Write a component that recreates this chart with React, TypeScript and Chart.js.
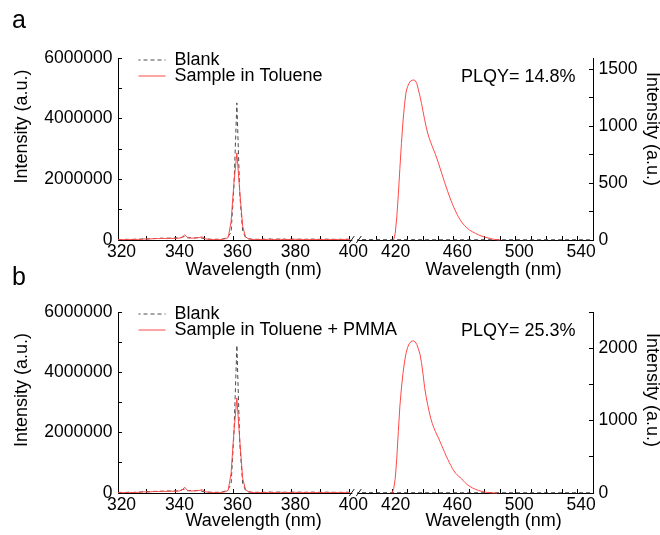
import React, { useEffect, useRef } from 'react';
import { Chart, registerables } from 'chart.js';

Chart.register(...registerables);

const FONT = "'Liberation Sans', Arial, Helvetica, sans-serif";
const RED = 'rgb(255, 72, 72)';
const GREY = '#4a4a4a';

// ---- data: left segment sampled every 1 nm starting at 320 nm ----
const leftStart = 320;

const blankA_left = [
  20000, 15000, 18000, 22000, 15000, 20000, 25000, 18000, 30000, 45000,
  35000, 40000, 50000, 45000, 55000, 60000, 50000, 65000, 55000, 60000,
  70000, 60000, 90000, 120000, 70000, 80000, 60000, 70000, 90000, 60000,
  40000, 30000, 25000, 20000, 25000, 20000, 30000, 60000, 120000, 250000,
  1800000, 4520000, 1500000, 300000, 80000, 40000, 30000, 25000, 20000, 25000,
  30000, 20000, 40000, 25000, 20000, 30000, 25000, 35000, 20000, 25000,
  30000, 20000, 25000, 30000, 20000, 25000, 20000, 30000, 25000, 20000,
  25000, 20000, 30000, 20000, 25000, 20000, 25000, 20000, 20000, 25000, 20000,
];
const sampleA_left = [
  10000, 15000, 12000, 18000, 20000, 15000, 22000, 20000, 25000, 35000,
  30000, 35000, 40000, 50000, 45000, 55000, 50000, 45000, 60000, 50000,
  55000, 60000, 80000, 170000, 80000, 60000, 65000, 70000, 80000, 105000,
  40000, 25000, 20000, 15000, 20000, 15000, 25000, 40000, 80000, 600000,
  1900000, 2870000, 1600000, 450000, 100000, 40000, 20000, 15000, 20000, 15000,
  20000, 15000, 25000, 20000, 15000, 20000, 25000, 15000, 20000, 15000,
  20000, 25000, 15000, 20000, 15000, 20000, 15000, 20000, 15000, 20000,
  15000, 20000, 15000, 20000, 15000, 20000, 15000, 20000, 15000, 20000, 15000,
];
const blankB_left = [
  25000, 20000, 15000, 20000, 25000, 18000, 22000, 30000, 35000, 50000,
  40000, 45000, 55000, 50000, 60000, 55000, 65000, 70000, 60000, 75000,
  65000, 80000, 110000, 130000, 75000, 85000, 70000, 80000, 95000, 55000,
  35000, 30000, 25000, 20000, 22000, 25000, 35000, 65000, 130000, 280000,
  2000000, 4900000, 1650000, 320000, 85000, 40000, 30000, 25000, 20000, 25000,
  25000, 20000, 35000, 25000, 20000, 30000, 25000, 30000, 20000, 25000,
  30000, 20000, 25000, 30000, 20000, 25000, 20000, 30000, 25000, 20000,
  25000, 20000, 30000, 20000, 25000, 20000, 25000, 20000, 20000, 25000, 20000,
];
const sampleB_left = [
  12000, 15000, 10000, 18000, 22000, 15000, 20000, 22000, 28000, 40000,
  32000, 38000, 45000, 55000, 48000, 60000, 52000, 50000, 65000, 55000,
  60000, 65000, 90000, 190000, 85000, 65000, 70000, 75000, 85000, 110000,
  40000, 25000, 20000, 15000, 20000, 15000, 25000, 40000, 90000, 650000,
  2050000, 3150000, 1750000, 480000, 110000, 40000, 20000, 15000, 20000, 15000,
  20000, 15000, 25000, 20000, 15000, 20000, 25000, 15000, 20000, 15000,
  20000, 25000, 15000, 20000, 15000, 20000, 15000, 20000, 15000, 20000,
  15000, 20000, 15000, 20000, 15000, 20000, 15000, 20000, 15000, 20000, 15000,
];

// ---- data: right segment (emission) ----
const sampleA_rightWl = [
  421, 422, 423, 424, 425, 426, 427, 428, 429, 430,
  431, 432, 433, 434, 435, 436, 437, 438, 439, 440,
  441, 442, 443, 444, 445, 446, 447, 448, 449, 450,
  451, 452, 453, 454, 455, 456, 457, 458, 459, 460,
  461, 462, 463, 464, 465, 466, 467, 468, 469, 470,
  472, 474, 476, 478, 480, 482, 484, 486, 488, 490,
];
const sampleA_right = [
  0, 60, 200, 400, 630, 850, 1040, 1190, 1300, 1350,
  1380, 1398, 1405, 1407, 1400, 1375, 1320, 1265, 1200, 1130,
  1060, 995, 940, 895, 858, 822, 788, 752, 715, 675,
  632, 590, 547, 505, 465, 425, 387, 350, 315, 285,
  255, 226, 200, 178, 158, 140, 125, 112, 100, 88,
  72, 58, 45, 34, 26, 18, 11, 6, 3, 0,
];
const sampleB_rightWl = [
  420, 421, 422, 423, 424, 425, 426, 427, 428, 429, 430,
  431, 432, 433, 434, 435, 436, 437, 438, 439, 440,
  441, 442, 443, 444, 445, 446, 447, 448, 449, 450,
  451, 452, 453, 454, 455, 456, 457, 458, 459, 460,
  461, 462, 463, 464, 465, 466, 467, 468, 469, 470,
  472, 474, 476, 478, 480, 482, 484, 486, 488,
];
const sampleB_right = [
  0, 60, 200, 480, 850, 1200, 1450, 1650, 1810, 1930, 2010,
  2060, 2088, 2100, 2100, 2085, 2050, 1990, 1920, 1800, 1640,
  1460, 1330, 1220, 1120, 1030, 960, 900, 850, 800, 760,
  710, 660, 610, 560, 510, 465, 420, 380, 340, 305,
  275, 252, 232, 215, 195, 170, 148, 128, 110, 95,
  70, 50, 35, 22, 13, 7, 3, 1, 0,
];
const blankRightWl = [396, 400, 410, 420, 430, 440, 450, 460, 470, 480, 490, 500, 510, 520, 530, 540, 550];
const blankA_right = [15000, 15000, 12000, 10000, 12000, 10000, 8000, 10000, 8000, 10000, 8000, 10000, 8000, 10000, 8000, 10000, 8000];
const blankB_right = [15000, 14000, 12000, 10000, 11000, 10000, 9000, 10000, 8000, 10000, 9000, 10000, 8000, 10000, 9000, 10000, 8000];

// ---- ticks ----
const leftXTicks = [320, 330, 340, 350, 360, 370, 380, 390, 400];
const leftXLabels = [320, 340, 360, 380, 400];
const rightXTicks = [410, 420, 430, 440, 450, 460, 470, 480, 490, 500, 510, 520, 530, 540, 550];
const rightXLabels = [420, 460, 500, 540];
const leftYTicks = [0, 1000000, 2000000, 3000000, 4000000, 5000000, 6000000];
const leftYLabels = [0, 2000000, 4000000, 6000000];
const rightYTicksA = [0, 250, 500, 750, 1000, 1250, 1500];
const rightYLabelsA = [0, 500, 1000, 1500];
const rightYTicksB = [0, 500, 1000, 1500, 2000, 2500];
const rightYLabelsB = [0, 1000, 2000];

type PanelCfg = {
  blankLeft: number[];
  sampleLeft: number[];
  sampleRightWl: number[];
  sampleRight: number[];
  blankRight: number[];
  sampleLabel: string;
  plqy: string;
  letter: string;
  letterRise: number;
  rightMax: number;
  rightTicks: number[];
  rightLabels: number[];
  height: number;
  xAxisHeight: number;
  xTitlePadBottom: number;
  yTitleSpaces: number;
  y2TitleSpaces: number;
};

const spaces = (n: number) => ' '.repeat(n);

const panelDecor = {
  id: 'panelDecor',
  afterLayout(chart: any) {
    const lg = chart.legend;
    if (lg) {
      lg.left = chart.chartArea.left + 20.5;
      lg.top = chart.chartArea.top - 20;
    }
  },
  afterDraw(chart: any, _args: any, opts: any) {
    const { ctx, chartArea } = chart;
    ctx.save();
    ctx.fillStyle = '#000';
    ctx.textBaseline = 'alphabetic';
    ctx.textAlign = 'left';
    ctx.font = `25px ${FONT}`;
    ctx.fillText(opts.letter, 12, chartArea.top - opts.letterRise);
    ctx.font = `18px ${FONT}`;
    ctx.textAlign = 'right';
    ctx.fillText(opts.plqy, chartArea.right - 17.5, chartArea.top + 24);
    // axis break marks
    const xb = chart.scales.x1.right;
    const yb = chartArea.bottom;
    ctx.fillStyle = '#fff';
    ctx.fillRect(xb - 2, yb - 1.5, 5, 3);
    ctx.strokeStyle = '#222';
    ctx.lineWidth = 1;
    ctx.setLineDash([]);
    ctx.beginPath();
    ctx.moveTo(xb - 5, yb + 3);
    ctx.lineTo(xb, yb - 4);
    ctx.moveTo(xb + 2, yb + 3);
    ctx.lineTo(xb + 7, yb - 4);
    ctx.stroke();
    ctx.restore();
  },
};

function buildConfig(p: PanelCfg): any {
  const tickFont = { family: FONT, size: 17.5 };
  const titleFont = { family: FONT, size: 18 };
  const grid = { drawOnChartArea: false, drawTicks: true, tickLength: -4, color: '#000', tickColor: '#000', lineWidth: 1 };
  const border = { display: true, color: '#000', width: 1 };
  const setTicks = (vals: number[]) => (s: any) => {
    s.ticks = vals.map((v) => ({ value: v }));
  };
  const labelCb = (labels: number[]) => (v: any) => (labels.includes(Number(v)) ? String(v) : '');
  const leftPts = (vals: number[]) => vals.map((y, i) => ({ x: leftStart + i, y }));
  const pairPts = (xs: number[], ys: number[]) => xs.map((x, i) => ({ x, y: ys[i] }));
  const line = { pointRadius: 0, borderWidth: 1, tension: 0, fill: false, clip: 4 };

  return {
    type: 'line',
    data: {
      datasets: [
        { ...line, label: 'Blank', data: leftPts(p.blankLeft), borderColor: GREY, backgroundColor: GREY, borderDash: [4, 3], xAxisID: 'x1', yAxisID: 'y', order: 1 },
        { ...line, label: p.sampleLabel, data: leftPts(p.sampleLeft), borderColor: RED, backgroundColor: RED, xAxisID: 'x1', yAxisID: 'y', order: 0 },
        { ...line, label: 'Blank (emission range)', data: pairPts(blankRightWl, p.blankRight), borderColor: GREY, backgroundColor: GREY, borderDash: [4, 3], xAxisID: 'x2', yAxisID: 'y', order: 1 },
        { ...line, label: p.sampleLabel + ' (emission)', data: pairPts(p.sampleRightWl, p.sampleRight), borderColor: RED, backgroundColor: RED, xAxisID: 'x2', yAxisID: 'y2', order: 0 },
      ],
    },
    options: {
      animation: false,
      responsive: false,
      maintainAspectRatio: false,
      events: [],
      layout: { padding: { top: 58, left: 0, right: 0, bottom: 0 } },
      scales: {
        x1: {
          type: 'linear', axis: 'x', position: 'bottom', stack: 'wl', stackWeight: 236.3,
          min: 320, max: 401.5,
          afterBuildTicks: setTicks(leftXTicks),
          afterFit: (s: any) => { s.height = p.xAxisHeight; },
          ticks: { callback: labelCb(leftXLabels), autoSkip: false, maxRotation: 0, padding: 6, labelOffset: 3.5, font: tickFont, color: '#000' },
          grid, border,
          title: { display: true, text: spaces(7) + 'Wavelength (nm)', font: titleFont, color: '#000', padding: { top: 0, bottom: p.xTitlePadBottom } },
        },
        x2: {
          type: 'linear', axis: 'x', position: 'bottom', stack: 'wl', stackWeight: 238.7,
          min: 395.5, max: 550,
          afterBuildTicks: setTicks(rightXTicks),
          afterFit: (s: any) => { s.height = p.xAxisHeight; },
          ticks: { callback: labelCb(rightXLabels), autoSkip: false, maxRotation: 0, padding: 6, labelOffset: 3.5, font: tickFont, color: '#000' },
          grid, border,
          title: { display: true, text: spaces(8) + 'Wavelength (nm)', font: titleFont, color: '#000', padding: { top: 0, bottom: p.xTitlePadBottom } },
        },
        y: {
          type: 'linear', axis: 'y', position: 'left', min: 0, max: 6000000,
          afterBuildTicks: setTicks(leftYTicks),
          afterFit: (s: any) => { s.width = 118; },
          ticks: { callback: labelCb(leftYLabels), autoSkip: false, padding: 9.5, font: tickFont, color: '#000' },
          grid, border,
          title: { display: true, text: spaces(p.yTitleSpaces) + 'Intensity (a.u.)', font: titleFont, color: '#000', padding: { top: 11, bottom: 0 } },
        },
        y2: {
          type: 'linear', axis: 'y', position: 'right', min: 0, max: p.rightMax,
          afterBuildTicks: setTicks(p.rightTicks),
          afterFit: (s: any) => { s.width = 67; },
          ticks: { callback: labelCb(p.rightLabels), autoSkip: false, padding: 9.5, font: tickFont, color: '#000' },
          grid, border,
          title: { display: true, text: 'Intensity (a.u.)' + spaces(p.y2TitleSpaces), font: titleFont, color: '#000', padding: { top: -3, bottom: 0 } },
        },
      },
      plugins: {
        tooltip: { enabled: false },
        title: { display: false },
        legend: {
          display: true,
          position: 'chartArea',
          align: 'start',
          title: { display: true, text: '', font: { family: FONT, size: 18, lineHeight: 0 }, padding: { top: 15, bottom: 0 } },
          labels: {
            usePointStyle: true,
            pointStyle: 'line',
            pointStyleWidth: 29,
            padding: -2,
            font: { family: FONT, size: 18 },
            color: '#000',
            generateLabels: (chart: any) => {
              const base = (Chart as any).defaults.plugins.legend.labels.generateLabels(chart);
              return base.map((item: any) => {
                const ds = chart.data.datasets[item.datasetIndex];
                return { ...item, lineDash: ds.borderDash || [], strokeStyle: ds.borderColor, lineWidth: ds.borderWidth };
              });
            },
            filter: (item: any) => item.datasetIndex < 2,
            sort: (a: any, b: any) => a.datasetIndex - b.datasetIndex,
          },
        },
        panelDecor: { letter: p.letter, letterRise: p.letterRise, plqy: p.plqy },
      },
    },
    plugins: [panelDecor],
  };
}

const panelA: PanelCfg = {
  blankLeft: blankA_left,
  sampleLeft: sampleA_left,
  sampleRightWl: sampleA_rightWl,
  sampleRight: sampleA_right,
  blankRight: blankA_right,
  sampleLabel: 'Sample in Toluene',
  plqy: 'PLQY= 14.8%',
  letter: 'a',
  letterRise: 30,
  rightMax: 1600,
  rightTicks: rightYTicksA,
  rightLabels: rightYLabelsA,
  height: 286,
  xAxisHeight: 46,
  xTitlePadBottom: 5.2,
  yTitleSpaces: 9,
  y2TitleSpaces: 8,
};

const panelB: PanelCfg = {
  blankLeft: blankB_left,
  sampleLeft: sampleB_left,
  sampleRightWl: sampleB_rightWl,
  sampleRight: sampleB_right,
  blankRight: blankB_right,
  sampleLabel: 'Sample in Toluene + PMMA',
  plqy: 'PLQY= 25.3%',
  letter: 'b',
  letterRise: 27,
  rightMax: 2500,
  rightTicks: rightYTicksB,
  rightLabels: rightYLabelsB,
  height: 281,
  xAxisHeight: 42,
  xTitlePadBottom: 3,
  yTitleSpaces: 5,
  y2TitleSpaces: 5,
};

function Panel({ cfg, top }: { cfg: PanelCfg; top: number }) {
  const ref = useRef<HTMLCanvasElement | null>(null);
  useEffect(() => {
    if (!ref.current) return;
    const chart = new Chart(ref.current, buildConfig(cfg));
    return () => chart.destroy();
  }, [cfg]);
  return (
    <canvas
      ref={ref}
      width={660}
      height={cfg.height}
      style={{ position: 'absolute', left: 0, top, width: 660, height: cfg.height }}
    />
  );
}

export default function App() {
  return (
    <div style={{ position: 'absolute', left: 0, top: 0, width: 660, height: 535, background: '#fff', overflow: 'hidden' }}>
      <Panel cfg={panelA} top={0} />
      <Panel cfg={panelB} top={254} />
    </div>
  );
}
